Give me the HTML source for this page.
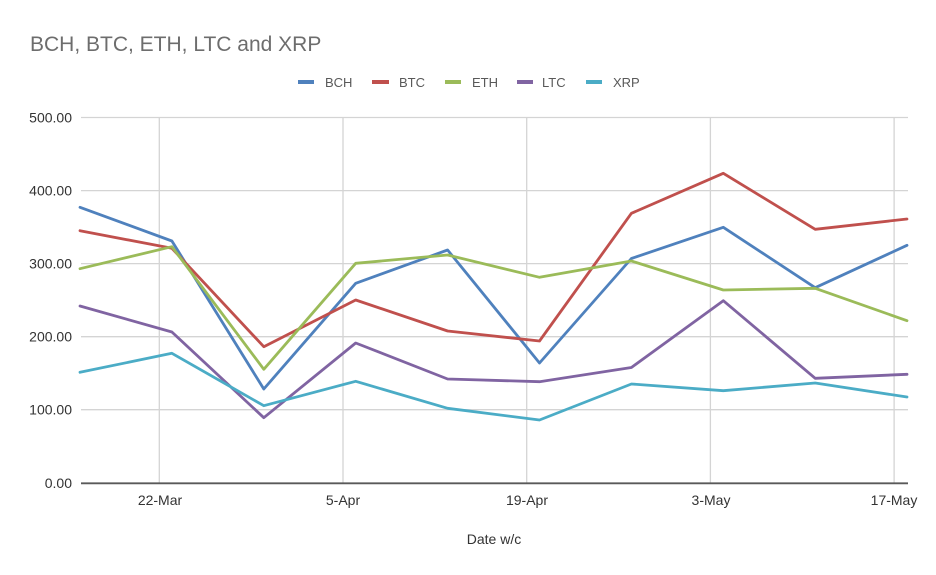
<!DOCTYPE html>
<html>
<head>
<meta charset="utf-8">
<style>
  html,body{margin:0;padding:0;background:#fff;}
  svg{display:block;}
  text{font-family:"Liberation Sans",sans-serif;}
</style>
</head>
<body>
<svg width="936" height="575" viewBox="0 0 936 575" xmlns="http://www.w3.org/2000/svg">
  <rect width="936" height="575" fill="#ffffff"/>
  <!-- Title -->
  <text x="30" y="51" font-size="21" fill="#6d6d6d">BCH, BTC, ETH, LTC and XRP</text>

  <!-- Legend -->
  <g stroke-width="4" fill="none">
    <line x1="298" y1="82" x2="314" y2="82" stroke="#4F81BD"/>
    <line x1="372" y1="82" x2="389" y2="82" stroke="#C0504D"/>
    <line x1="445" y1="82" x2="461" y2="82" stroke="#9BBB59"/>
    <line x1="517" y1="82" x2="533" y2="82" stroke="#8064A2"/>
    <line x1="586" y1="82" x2="602" y2="82" stroke="#4BACC6"/>
  </g>
  <g font-size="13" fill="#595959">
    <text x="325" y="87">BCH</text>
    <text x="399" y="87">BTC</text>
    <text x="472" y="87">ETH</text>
    <text x="542" y="87">LTC</text>
    <text x="613" y="87">XRP</text>
  </g>

  <!-- Gridlines -->
  <g stroke="#d4d4d4" stroke-width="1.3">
    <line x1="81" y1="117.5" x2="908" y2="117.5"/>
    <line x1="81" y1="190.6" x2="908" y2="190.6"/>
    <line x1="81" y1="263.6" x2="908" y2="263.6"/>
    <line x1="81" y1="336.7" x2="908" y2="336.7"/>
    <line x1="81" y1="409.7" x2="908" y2="409.7"/>
    <line x1="159.3" y1="117" x2="159.3" y2="483"/>
    <line x1="343" y1="117" x2="343" y2="483"/>
    <line x1="526.7" y1="117" x2="526.7" y2="483"/>
    <line x1="710.4" y1="117" x2="710.4" y2="483"/>
    <line x1="894.1" y1="117" x2="894.1" y2="483"/>
  </g>
  <!-- X axis -->
  <line x1="81" y1="483.3" x2="908" y2="483.3" stroke="#595959" stroke-width="1.8"/>

  <!-- Y labels -->
  <g font-size="14" fill="#333333" text-anchor="end">
    <text x="72" y="122.5">500.00</text>
    <text x="72" y="195.6">400.00</text>
    <text x="72" y="268.6">300.00</text>
    <text x="72" y="341.7">200.00</text>
    <text x="72" y="414.7">100.00</text>
    <text x="72" y="488">0.00</text>
  </g>
  <!-- X labels -->
  <g font-size="14" fill="#333333" text-anchor="middle">
    <text x="160" y="505">22-Mar</text>
    <text x="343" y="505">5-Apr</text>
    <text x="527" y="505">19-Apr</text>
    <text x="711" y="505">3-May</text>
    <text x="894" y="505">17-May</text>
  </g>
  <text x="494" y="544" font-size="14" fill="#333333" text-anchor="middle">Date w/c</text>

  <!-- Series -->
  <g fill="none" stroke-width="2.8" stroke-linejoin="round" stroke-linecap="round">
    <polyline stroke="#4F81BD" points="80,207.3 171.9,241 263.8,389 355.7,283.3 447.6,250 539.5,363 631.4,258.5 723.3,227.3 815.2,287.7 907,245.3"/>
    <polyline stroke="#C0504D" points="80,230.7 171.9,248.3 263.8,346.7 355.7,300 447.6,331 539.5,341 631.4,213.3 723.3,173.3 815.2,229.3 907,219"/>
    <polyline stroke="#9BBB59" points="80,268.7 171.9,246.7 263.8,369.3 355.7,263.3 447.6,255 539.5,277.3 631.4,261 723.3,290 815.2,288.3 907,320.7"/>
    <polyline stroke="#8064A2" points="80,306 171.9,332 263.8,417.7 355.7,343 447.6,379 539.5,381.7 631.4,367.5 723.3,300.7 815.2,378.3 907,374.3"/>
    <polyline stroke="#4BACC6" points="80,372.3 171.9,353.3 263.8,405.7 355.7,381.3 447.6,408.3 539.5,420 631.4,384 723.3,390.7 815.2,383 907,397"/>
  </g>
</svg>
</body>
</html>
